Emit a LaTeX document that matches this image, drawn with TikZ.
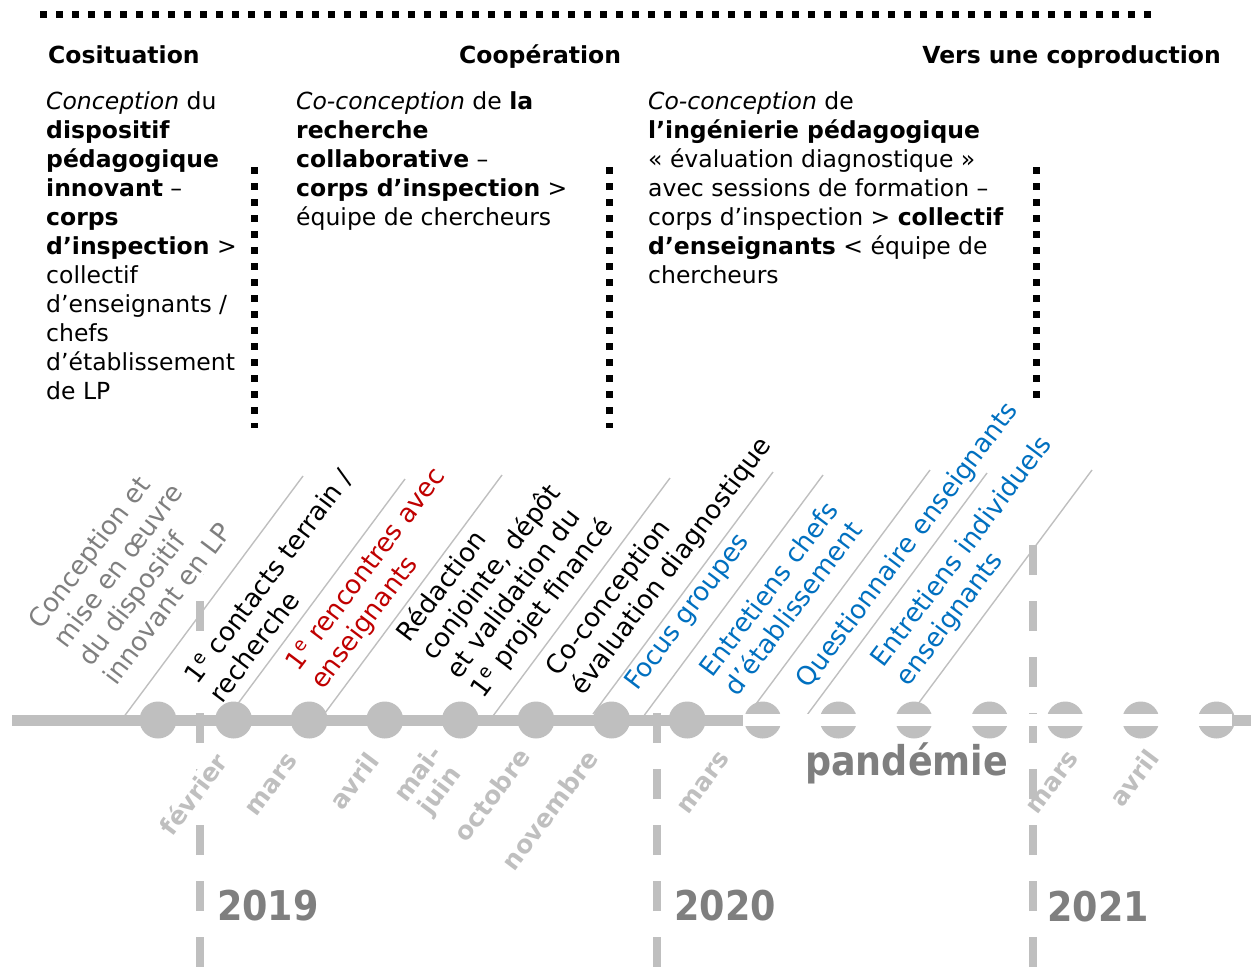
\documentclass[tikz,border=0pt]{standalone}
\usepackage{fontspec}
\setmainfont{DejaVu Sans}
\newfontfamily\yearfont[FakeStretch=0.89]{DejaVu Sans}
\usetikzlibrary{calc}

\definecolor{lightgris}{RGB}{191,191,191}
\definecolor{midgris}{RGB}{127,127,127}
\definecolor{rouge}{RGB}{192,0,0}
\definecolor{bleu}{RGB}{0,112,192}

\begin{document}
\begin{tikzpicture}[x=1pt, y=-1pt,
	phase/.style={font=\fontsize{23.5}{29}\selectfont, align=left, anchor=north west, inner sep=0pt},
	titre/.style={font=\fontsize{23.5}{29}\selectfont\bfseries, inner sep=0pt},
	evenement/.style={font=\fontsize{26}{31}\selectfont, align=left, anchor=north west, rotate=53, fill=white, inner sep=2pt},
	mois/.style={font=\fontsize{25}{27}\selectfont\bfseries, text=lightgris, align=center, rotate=53, inner sep=1pt},
	annee/.style={font=\fontsize{41}{45}\yearfont\bfseries, text=midgris, anchor=base west, inner sep=0pt},
	separateur/.style={lightgris, line width=1.4pt},
	pointille/.style={line width=7pt, dash pattern=on 7pt off 9pt},
	tirets/.style={lightgris, line width=8pt, dash pattern=on 30pt off 26pt}]

\useasboundingbox (0,0) rectangle (1251,967);

% years: dashed separators, drawn first so that the labels hide them
\draw[tirets] (200,967) -- (200,545);
\draw[tirets] (657,967) -- (657,713);
\draw[tirets] (1033,967) -- (1033,545);

% events along the timeline (top left corner of each text block)
\node[evenement, text=midgris] (dispositif) at (23,619) {Conception et\\mise en œuvre\\du dispositif\\innovant en LP};
\node[evenement] (contacts) at (179,674) {1\textsuperscript{e} contacts terrain /\\recherche};
\node[evenement, text=rouge] (rencontres) at (280,661) {1\textsuperscript{e} rencontres avec\\enseignants};
\node[evenement] (redaction) at (390,631) {Rédaction\\conjointe, dépôt\\et validation du\\1\textsuperscript{e} projet financé};
\node[evenement] (coconception) at (540,666) {Co-conception\\évaluation diagnostique};
\node[evenement, text=bleu] (focus) at (619,681) {Focus groupes};
\node[evenement, text=bleu] (chefs) at (694,667) {Entretiens chefs\\d’établissement};
\node[evenement, text=bleu] (questionnaire) at (790,678) {Questionnaire enseignants};
\node[evenement, text=bleu] (individuels) at (865,657) {Entretiens individuels\\enseignants};

\foreach \t/\h in {303/476, 405/479, 502/475, 670/478, 773/472, 823/475, 930/470, 987/473, 1092/470}
	\draw[separateur] (\t,\h) -- ++(-180,242);

% the timeline
\draw[lightgris, line width=11pt] (12,720) -- (1251,720);
\foreach \i in {0,...,14}
	\fill[lightgris] (158+75.6*\i,720) circle[radius=18.5pt];
% pandemic: hollow part
\draw[white, line width=12pt] (743,720) -- (1232,720);

% months
\node[mois, fill=white] (fevrier) at (193,794) {février};
\node[mois] (mars19) at (272,785) {mars};
\node[mois] (avril19) at (354,781) {avril};
\node[mois] (maijuin) at (430,783) {mai-\\juin};
\node[mois] (octobre) at (492,795) {octobre};
\node[mois] (novembre) at (550,810) {novembre};
\node[mois] (mars20) at (704,783) {mars};
\node[mois] (mars21) at (1053,783) {mars};
\node[mois] (avril21) at (1134,778) {avril};

\node[annee] (an2019) at (217,920) {2019};
\node[annee] (an2020) at (674,920) {2020};
\node[annee] (an2021) at (1047,921) {2021};
\node[annee] (pandemie) at (805,775) {pandémie};

% phases of the collaboration
\draw[pointille] (40,14) -- (1152,14);
\node[titre, anchor=base west] (cosituation) at (48,63) {Cosituation};
\node[titre, anchor=base west] (cooperation) at (459,63) {Coopération};
\node[titre, anchor=base east] (coproduction) at (1221,63) {Vers une coproduction};

\node[phase] (phaseA) at (46,91) {\textit{Conception} du\\\textbf{dispositif}\\\textbf{pédagogique}\\\textbf{innovant} –\\\textbf{corps}\\\textbf{d’inspection} >\\collectif\\d’enseignants /\\chefs\\d’établissement\\de LP};
\node[phase] (phaseB) at (296,91) {\textit{Co-conception} de \textbf{la}\\\textbf{recherche}\\\textbf{collaborative} –\\\textbf{corps d’inspection} >\\équipe de chercheurs};
\node[phase] (phaseC) at (648,91) {\textit{Co-conception} de\\\textbf{l’ingénierie pédagogique}\\« évaluation diagnostique »\\avec sessions de formation –\\corps d’inspection > \textbf{collectif}\\\textbf{d’enseignants} < équipe de\\chercheurs};

\draw[pointille] (254,167) -- (254,428);
\draw[pointille] (609,167) -- (609,428);
\draw[pointille] (1036,167) -- (1036,404);

\end{tikzpicture}
\end{document}
